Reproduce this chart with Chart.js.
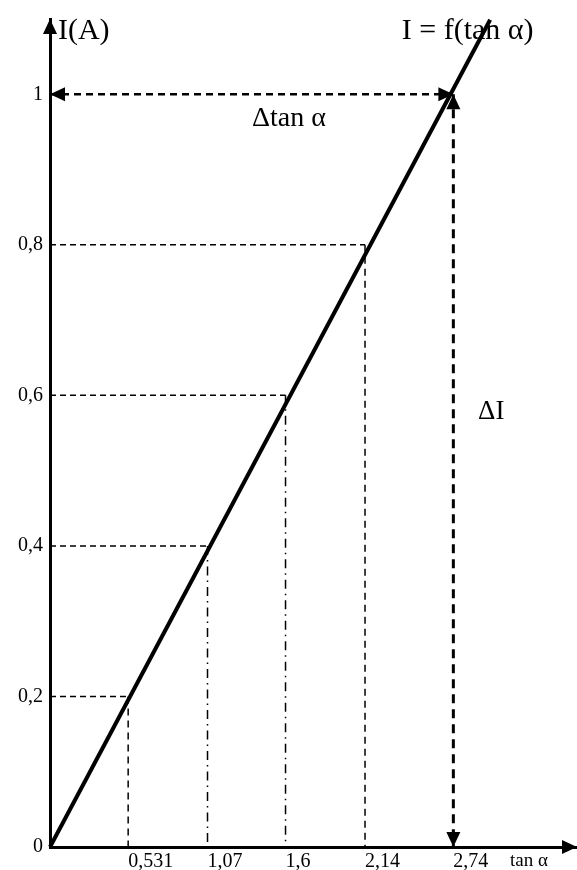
<!DOCTYPE html>
<html>
<head>
<meta charset="utf-8">
<script src="https://cdn.jsdelivr.net/npm/chart.js@4.4.0/dist/chart.umd.min.js"></script>
<style>
html, body { margin: 0; padding: 0; background: #fff; }
canvas { display: block; }
</style>
</head>
<body>
<canvas id="Chart" width="577" height="870"></canvas>
<script>
//values
const tanAlpha = [0.531, 1.07, 1.6, 2.14, 2.74]
const current = [0.2, 0.4, 0.6, 0.8, 1]
const xTickLabels = ['0,531', '1,07', '1,6', '2,14', '2,74']
const yTicks = [0, 0.2, 0.4, 0.6, 0.8, 1]
const yTickLabels = ['0', '0,2', '0,4', '0,6', '0,8', '1']
const xAxisName = 'tan α'
const xAxisNameAt = 3.125

//straight fitted line I = f(tan a)
const fitT = [0, 2.99]
const fitI = [0, 1.099]

//kind of drop line under each point
const dropKind = ['dash', 'dashdot', 'dashdot', 'dash', 'arrow']

//texts on the graph, anchored in data units
const noteText = ['I(A)', 'I = f(tan α)', 'Δtan α', 'ΔI']
const noteT = [0.054, 2.39, 1.372, 2.908]
const noteI = [1.073, 1.073, 0.958, 0.568]

const serif = '"Liberation Serif", "DejaVu Serif", serif'
const noteSize = [30, 30, 28, 27]

function pt(x, y) { return {x: x, y: y} }

function seg(a, b, width, dash) {
    return {
        data: [a, b],
        showLine: true,
        borderColor: '#000',
        borderWidth: width,
        borderDash: dash,
        pointRadius: 0,
        fill: false,
        clip: false
    }
}

//build datasets, main line first so it is drawn on top
let datasets = []
datasets.push({
    data: fitT.map((t, i) => pt(t, fitI[i])),
    showLine: true,
    borderColor: '#000',
    borderWidth: 4,
    pointRadius: 0,
    clip: false
})
const last = tanAlpha.length - 1
for (let i = 0; i < tanAlpha.length; i++) {
    const t = tanAlpha[i], c = current[i]
    if (dropKind[i] === 'arrow') {
        datasets.push(seg(pt(0, c), pt(t, c), 2.5, [7, 5]))
        datasets.push(seg(pt(t, c), pt(t, 0), 3, [9, 6]))
    } else {
        datasets.push(seg(pt(0, c), pt(t, c), 1.5, [6, 4]))
        const dash = dropKind[i] === 'dashdot' ? [9, 5, 1.5, 5] : [7, 5]
        datasets.push(seg(pt(t, c), pt(t, 0), 1.5, dash))
    }
}

//filled arrow head, tip at px,py pointing along ang
function head(ctx, px, py, ang, len, half) {
    len = len || 15
    half = half || 7
    const c = Math.cos(ang), s = Math.sin(ang)
    ctx.beginPath()
    ctx.moveTo(px, py)
    ctx.lineTo(px - len * c - half * s, py - len * s + half * c)
    ctx.lineTo(px - len * c + half * s, py - len * s - half * c)
    ctx.closePath()
    ctx.fill()
}

const arrowPlugin = {
    id: 'arrows',
    afterDraw(chart) {
        const ctx = chart.ctx
        const x = chart.scales.x, y = chart.scales.y
        ctx.save()
        ctx.fillStyle = '#000'
        //axis ends
        head(ctx, x.getPixelForValue(0), y.top, -Math.PI / 2)
        head(ctx, x.right, y.getPixelForValue(0), 0)
        //delta arrows
        const px = x.getPixelForValue(tanAlpha[last])
        const py = y.getPixelForValue(current[last])
        head(ctx, x.getPixelForValue(0), py, Math.PI)
        head(ctx, px, py, 0)
        head(ctx, px, py, -Math.PI / 2)
        head(ctx, px, y.getPixelForValue(0), Math.PI / 2)
        //texts
        ctx.textAlign = 'left'
        ctx.textBaseline = 'alphabetic'
        for (let i = 0; i < noteText.length; i++) {
            ctx.font = noteSize[i] + 'px ' + serif
            ctx.fillText(noteText[i], x.getPixelForValue(noteT[i]), y.getPixelForValue(noteI[i]))
        }
        ctx.restore()
    }
}

const ctx = document.getElementById('Chart').getContext('2d')
const myChart = new Chart(ctx, {
    type: 'scatter',
    data: { datasets: datasets },
    options: {
        responsive: false,
        animation: false,
        events: [],
        layout: { padding: { top: 15, right: 0, left: 0, bottom: 0 } },
        plugins: { legend: { display: false }, tooltip: { enabled: false } },
        scales: {
            x: {
                type: 'linear',
                min: 0,
                max: 3.58,
                grid: { display: false, drawTicks: false },
                border: { display: true, color: '#000', width: 3 },
                afterFit: (s) => { s.height = 23 },
                afterBuildTicks: (s) => {
                    s.ticks = tanAlpha.concat([xAxisNameAt]).map(v => ({value: v}))
                },
                ticks: {
                    autoSkip: false,
                    maxRotation: 0,
                    align: 'start',
                    padding: 3,
                    color: '#000',
                    font: (c) => ({ family: serif, size: c.index === tanAlpha.length ? 19 : 20 }),
                    callback: (v, i) => i < xTickLabels.length ? xTickLabels[i] : xAxisName
                }
            },
            y: {
                type: 'linear',
                min: 0,
                max: 1.1,
                grid: { display: false, drawTicks: false },
                border: { display: true, color: '#000', width: 3 },
                afterFit: (s) => { s.width = 50 },
                afterBuildTicks: (s) => {
                    s.ticks = yTicks.map(v => ({value: v}))
                },
                ticks: {
                    autoSkip: false,
                    padding: 7,
                    color: '#000',
                    font: { family: serif, size: 20 },
                    callback: (v, i) => yTickLabels[i]
                }
            }
        }
    },
    plugins: [arrowPlugin]
})
</script>
</body>
</html>
